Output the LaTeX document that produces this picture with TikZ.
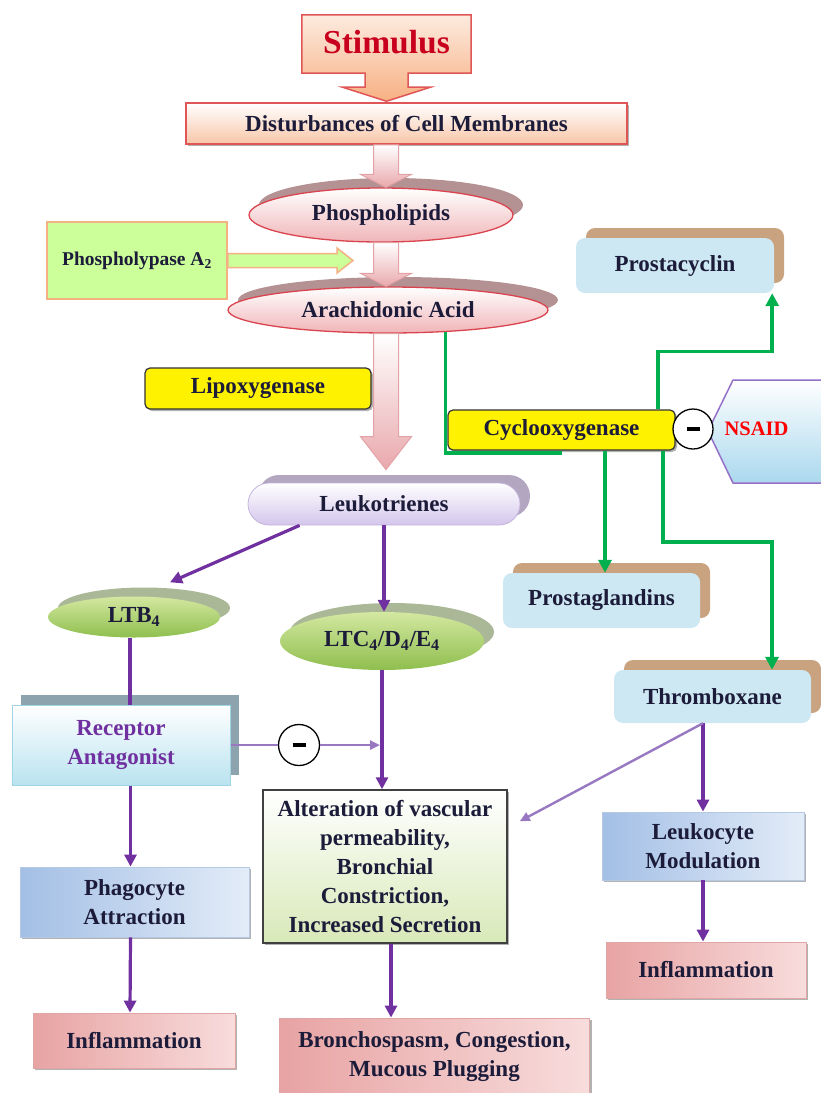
\documentclass[tikz,border=0pt]{standalone}
\usepackage{fontspec}
\setmainfont{Liberation Serif}
\usetikzlibrary{shapes.geometric,arrows.meta,shadows,calc}
\definecolor{ink}{HTML}{1C1C3A}
\definecolor{stimred}{HTML}{C8001E}
\definecolor{ellred}{HTML}{D9444F}
\definecolor{pinkbot}{HTML}{F0B5B8}
\definecolor{rosesh}{HTML}{B49294}
\definecolor{arrpink}{HTML}{E9A8AC}
\definecolor{arrpinkd}{HTML}{E3A2A6}
\definecolor{stimtop}{HTML}{FDEBDF}
\definecolor{stimbot}{HTML}{F7B083}
\definecolor{stimline}{HTML}{E05555}
\definecolor{distbot}{HTML}{F8C6A8}
\definecolor{plgreen}{HTML}{CCFF99}
\definecolor{plorange}{HTML}{F4B183}
\definecolor{lav}{HTML}{D4C6EC}
\definecolor{lavline}{HTML}{C4B4DE}
\definecolor{lavsh}{HTML}{B3A6C0}
\definecolor{gtop}{HTML}{D3E8A0}
\definecolor{gbot}{HTML}{8FBE4E}
\definecolor{gsh}{HTML}{ABB898}
\definecolor{blueface}{HTML}{CDE8F2}
\definecolor{tansh}{HTML}{C9A27F}
\definecolor{recbot}{HTML}{B9E3F0}
\definecolor{recline}{HTML}{9FD5E6}
\definecolor{recsh}{HTML}{8DA4AE}
\definecolor{purp}{HTML}{7030A0}
\definecolor{lpurp}{HTML}{9878C0}
\definecolor{gline}{HTML}{00B04F}
\definecolor{altbot}{HTML}{D8E9B8}
\definecolor{bleft}{HTML}{A3BFE5}
\definecolor{bright}{HTML}{E3ECF8}
\definecolor{bline}{HTML}{B5C9E4}
\definecolor{pleft}{HTML}{E8A3A3}
\definecolor{pright}{HTML}{F8DCDC}
\definecolor{pline}{HTML}{E0A5A5}
\definecolor{nsaidline}{HTML}{9470C8}
\definecolor{nsaidbot}{HTML}{AAD8EE}
\newcommand\pinkblock[3]{%
  \path[blockarr] ($(#1)+(-12.5,0)$) -- ($(#2)+(-12.5,-#3)$) -- ($(#2)+(-25.5,-#3)$) -- (#2)
    -- ($(#2)+(25.5,-#3)$) -- ($(#2)+(12.5,-#3)$) -- ($(#1)+(12.5,0)$) -- cycle;}
\begin{document}
\begin{tikzpicture}[x=1pt,y=-1pt,
  txt/.style={font=\fontsize{23}{29}\selectfont\bfseries, text=ink, align=center, inner sep=0pt},
  softsh/.style={general shadow={shadow xshift=2pt,shadow yshift=-2pt,fill=black!30}},
  pinkell/.style={txt, ellipse, draw=ellred, line width=1.3pt, top color=white, bottom color=pinkbot,
     general shadow={shadow xshift=10pt,shadow yshift=10pt,fill=rosesh}},
  greenell/.style={txt, ellipse, top color=gtop, bottom color=gbot,
     general shadow={shadow xshift=10pt,shadow yshift=9pt,fill=gsh}},
  yellowbox/.style={txt, rectangle, rounded corners=5pt, fill=yellow, draw=black!80, line width=1.2pt, softsh},
  bluebox/.style={txt, rectangle, rounded corners=9pt, fill=blueface,
     general shadow={shadow xshift=10pt,shadow yshift=10pt,fill=tansh}},
  bluegrad/.style={txt, rectangle, left color=bleft, right color=bright, draw=bline, line width=0.8pt, softsh},
  pinkgrad/.style={txt, rectangle, left color=pleft, right color=pright, draw=pline, line width=0.8pt, softsh},
  minusc/.style={circle, draw=black, line width=1.3pt, fill=white, minimum size=40pt, inner sep=0pt},
  blockarr/.style={draw=arrpinkd, line width=1pt, top color=white, bottom color=arrpink},
  parrow/.style={draw=purp, line width=3.2pt, -{Triangle[length=12pt,width=12pt]}},
  pplain/.style={draw=purp, line width=3.2pt},
  lparrow/.style={draw=lpurp, line width=2.4pt, -{Triangle[length=10pt,width=9pt]}},
  lpplain/.style={draw=lpurp, line width=2.4pt},
  garrow/.style={draw=gline, line width=3.8pt, -{Triangle[length=13pt,width=13pt]}},
  gplain/.style={draw=gline, line width=3.8pt}
]
\useasboundingbox (0,0) rectangle (821,1093);
\coordinate (ax) at (386,0);
\coordinate (platip) at (353,260.5);

% top chain
\node[txt, rectangle, draw=stimline, line width=1.5pt, top color=white, bottom color=distbot, softsh,
  minimum width=441pt, minimum height=41pt] (dist) at (406.5,123.5) {Disturbances of Cell Membranes};
\node[minimum width=169pt, minimum height=58pt, inner sep=0pt] (stim) at (386.5,44) {};
\path[draw=stimline, line width=1.5pt, top color=stimtop, bottom color=stimbot]
  (stim.north west) -- (stim.north east) -- (stim.south east) -- ($(stim.south)+(21.5,0)$)
  -- ($(stim.south)+(21.5,14)$) -- ($(stim.south)+(44,14)$) -- ([yshift=1pt]dist.north -| stim.south)
  -- ($(stim.south)+(-44,14)$) -- ($(stim.south)+(-21.5,14)$) -- ($(stim.south)+(-21.5,0)$)
  -- (stim.south west) -- cycle;
\node[font=\fontsize{33.5}{38}\selectfont\bfseries, text=stimred, inner sep=0pt] (stimlabel) at (386.5,42) {Stimulus};

\node[pinkell, minimum width=264pt, minimum height=54pt] (phos) at (381,215) {Phospholipids};
\node[pinkell, minimum width=320pt, minimum height=46pt] (arach) at (388,310) {Arachidonic Acid};
\node[txt, font=\fontsize{19.5}{22}\selectfont\bfseries, rectangle, fill=plgreen, draw=plorange, line width=1.5pt,
  minimum width=180pt, minimum height=77pt] (pla) at (137,260.5) {Phospholypase A\textsubscript{2}};
\path[fill=plgreen, draw=plorange, line width=1.5pt]
  ($(pla.east)+(0,-7)$) -- ($(platip)+(-16,-7)$) -- ($(platip)+(-16,-12.5)$) -- (platip)
  -- ($(platip)+(-16,12.5)$) -- ($(platip)+(-16,7)$) -- ($(pla.east)+(0,7)$) -- cycle;

\node[yellowbox, minimum width=226pt, minimum height=41pt] (lipox) at (258,388.5) {Lipoxygenase};
\node[txt, rectangle, rounded corners=21pt, top color=white, bottom color=lav, draw=lavline, line width=0.8pt,
  general shadow={shadow xshift=10pt,shadow yshift=8pt,fill=lavsh},
  minimum width=272pt, minimum height=42pt] (leuko) at (384,504) {Leukotrienes};

\pinkblock{dist.south -| ax}{phos.north -| ax}{13}
\pinkblock{phos.south -| ax}{arach.north -| ax}{13}
\pinkblock{arach.south -| ax}{[yshift=13pt]leuko.north -| ax}{33}

% cyclooxygenase side
\node[bluebox, minimum width=198pt, minimum height=55pt] (pcyc) at (675,265.5) {Prostacyclin};
\node[bluebox, minimum width=197pt, minimum height=55pt] (pgland) at (601.5,600.5) {Prostaglandins};
\node[bluebox, minimum width=197pt, minimum height=53pt] (thromb) at (712.5,696.5) {Thromboxane};
\path[draw=nsaidline, line width=1.5pt, top color=white, bottom color=nsaidbot]
  (824,380) -- (733,380) -- (708,431) -- (733,483) -- (824,483);
\node[font=\fontsize{20.5}{24}\selectfont\bfseries, text=red, inner sep=0pt] (nsaid) at (756.5,429) {NSAID};
\node[yellowbox, minimum width=227pt, minimum height=40pt] (cyclo) at (561.5,430) {Cyclooxygenase};
\node[minusc] (m1) at (693,429) {\rule{13pt}{4pt}};

\draw[gplain] (arach.-21) |- ([yshift=-2pt]cyclo.south);
\draw[garrow] ([xshift=-18pt]cyclo.north east) -- ++(0,-58) -| ([xshift=-2pt]pcyc.south east);
\draw[garrow] ([xshift=43.5pt]cyclo.south) -- ([xshift=43.5pt]cyclo.south |- pgland.north);
\draw[garrow] ([xshift=-13pt]cyclo.south east) -- ++(0,91) -| ([xshift=59.5pt]thromb.north);

% leukotriene side
\node[greenell, minimum width=172pt, minimum height=41pt] (ltb) at (134,617) {LTB\textsubscript{4}};
\node[greenell, minimum width=204pt, minimum height=58pt] (ltc) at (382,641) {LTC\textsubscript{4}/D\textsubscript{4}/E\textsubscript{4}};
\node[txt, text=purp, rectangle, top color=white, bottom color=recbot, draw=recline, line width=1pt,
  general shadow={shadow xshift=9pt,shadow yshift=10pt,fill=recsh},
  minimum width=218pt, minimum height=80pt] (recep) at (121,745) {Receptor\\Antagonist};
\node[minusc, minimum size=41pt] (m2) at (299,745) {\rule{13pt}{4pt}};
\node[txt, rectangle, draw=black!75, line width=1.5pt, top color=white, bottom color=altbot, softsh,
  minimum width=244pt, minimum height=153pt] (alter) at (385,866.5)
  {Alteration of vascular\\permeability,\\Bronchial\\Constriction,\\Increased Secretion};
\node[bluegrad, minimum width=202pt, minimum height=68pt] (leukm) at (703,846) {Leukocyte\\Modulation};
\node[pinkgrad, minimum width=200pt, minimum height=56pt] (infl3) at (706,970) {Inflammation};
\node[bluegrad, minimum width=229pt, minimum height=70pt] (phag) at (134.5,902) {Phagocyte\\Attraction};
\node[pinkgrad, minimum width=202pt, minimum height=55pt] (infl1) at (134,1040.5) {Inflammation};
\node[pinkgrad, minimum width=310pt, minimum height=78pt] (bronch) at (434.5,1057) {Bronchospasm, Congestion,\\Mucous Plugging};

\draw[parrow] ([xshift=52pt]leuko.south west) -- ([xshift=36pt,yshift=14pt]ltb.north);
\draw[parrow] (leuko.south) -- (leuko.south |- ltc.north);
\draw[pplain] ([xshift=-4pt]ltb.south) -- ([xshift=-4pt]ltb.south |- recep.north);
\draw[lpplain] (recep.east) -- (m2.west);
\draw[lparrow] (m2.east) -- ([xshift=-2pt]m2 -| ltc.south);
\draw[parrow] (ltc.south) -- (ltc.south |- alter.north);
\draw[parrow] ([xshift=-4pt]recep.south -| phag.north) -- ([xshift=-4pt]phag.north);
\draw[parrow] ([xshift=-4pt]phag.south) -- ([xshift=-4pt]infl1.north);
\draw[parrow] ([xshift=6pt]alter.south) -- ([xshift=6pt]alter.south |- bronch.north);
\draw[parrow] (thromb.south -| leukm.north) -- (leukm.north);
\draw[lparrow] (thromb.south -| leukm.north) -- ([xshift=12pt,yshift=-32pt]alter.north east);
\draw[parrow] (leukm.south) -- (leukm.south |- infl3.north);
\end{tikzpicture}
\end{document}
